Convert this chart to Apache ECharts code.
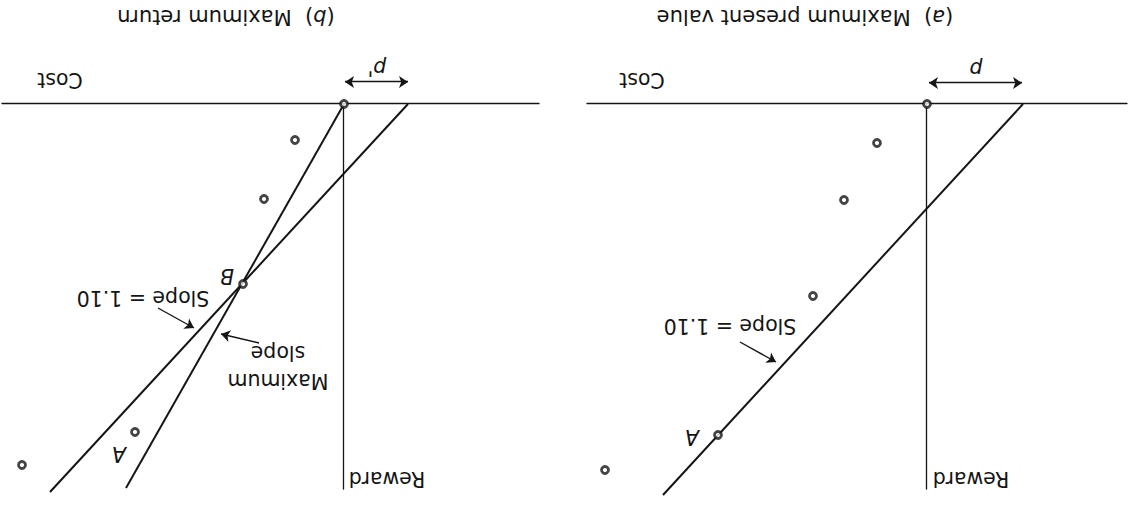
<!DOCTYPE html>
<html>
<head>
<meta charset="utf-8">
<script src="https://cdn.jsdelivr.net/npm/echarts@6/dist/echarts.min.js"></script>
<style>
html,body{margin:0;padding:0;background:#fff;}
#chart{width:1128px;height:505px;transform:rotate(180deg);transform-origin:50% 50%;}
</style>
</head>
<body>
<div id="chart"></div>
<script>
// ---- data (upright units: x = cost, y = reward; origin at the reward axis) ----
const panelTitles = ['Maximum present value', 'Maximum return'];
const panelLetters = ['a', 'b'];
const pointsA = [[5.0, 3.9], [8.3, 9.6], [11.4, 19.2], [20.9, 33.1], [32.2, 36.6]];
const slopeLineA = [[-9.6, 0], [26.4, 39.1]];
const pointsB = [[4.9, 3.6], [8.0, 9.5], [10.1, 18.0], [20.9, 32.8], [32.2, 36.1]];
const slopeLineB = [[-6.4, 0], [29.4, 38.8]];
const maxSlopeLineB = [[0, 0], [21.8, 38.4]];
const originPoint = [[0, 0]];
const slopeText = 'Slope = 1.10';

const ink = '#151515';
const font = 'DejaVu Sans';

function ringSeries(data, gi) {
  return {
    type: 'scatter', xAxisIndex: gi, yAxisIndex: gi, data: data,
    symbol: 'circle', symbolSize: 7, clip: false, silent: true, z: 5,
    itemStyle: {color: '#fff', borderColor: ink, borderWidth: 2.8}
  };
}
function lineSeries(data, gi) {
  return {
    type: 'line', xAxisIndex: gi, yAxisIndex: gi, data: data,
    showSymbol: false, clip: false, silent: true, z: 3,
    lineStyle: {color: ink, width: 2}
  };
}
function arrowSeries(from, to, gi, both) {
  return {
    type: 'lines', coordinateSystem: 'cartesian2d', xAxisIndex: gi, yAxisIndex: gi,
    clip: false, silent: true, z: 4,
    symbol: both ? ['arrow', 'arrow'] : ['none', 'arrow'], symbolSize: 9,
    lineStyle: {color: ink, width: 1.4, opacity: 1},
    data: [{coords: [from, to]}]
  };
}

const textA = [
  {t: 'Cost', v: [28.5, -2.4]},
  {t: 'Reward', v: [-4.4, 37.5]},
  {t: 'p', v: [-4.9, -3.5], it: true},
  {t: 'A', v: [23.5, 33.3], it: true},
  {t: slopeText, v: [19.7, 22.2]}
];
const textB = [
  {t: 'Cost', v: [28.4, -2.4]},
  {t: 'Reward', v: [-4.3, 37.45]},
  {t: "p'", v: [-3.3, -3.6], it: true},
  {t: 'A', v: [22.5, 35.0], it: true},
  {t: 'B', v: [11.7, 17.2], it: true},
  {t: slopeText, v: [20.1, 19.35]},
  {t: 'Maximum', v: [6.6, 27.65]},
  {t: 'slope', v: [6.6, 24.9]}
];

const axisStyle = {show: true, onZero: true, lineStyle: {color: ink, width: 1.3}};
function xAx(gi, min, max) {
  return {type: 'value', gridIndex: gi, min: min, max: max, axisLine: axisStyle,
          axisTick: {show: false}, axisLabel: {show: false}, splitLine: {show: false}};
}
function yAx(gi) {
  return {type: 'value', gridIndex: gi, min: 0, max: 38.5, axisLine: axisStyle,
          axisTick: {show: false}, axisLabel: {show: false}, splitLine: {show: false}};
}

const chart = echarts.init(document.getElementById('chart'), null, {renderer: 'svg'});
chart.setOption({
  animation: false,
  backgroundColor: '#fff',
  grid: [
    {left: 1, width: 540, top: 16, height: 385},
    {left: 589, width: 537, top: 16, height: 385}
  ],
  xAxis: [xAx(0, -20, 34), xAx(1, -19.5, 34.2)],
  yAxis: [yAx(0), yAx(1)],
  series: [
    lineSeries(slopeLineA, 0),
    ringSeries(pointsA, 0),
    ringSeries(originPoint, 0),
    arrowSeries([-0.2, -2.1], [-9.5, -2.1], 0, true),
    arrowSeries([18.7, 23.8], [15.1, 25.8], 0, false),

    lineSeries(slopeLineB, 1),
    lineSeries(maxSlopeLineB, 1),
    ringSeries(pointsB, 1),
    ringSeries(originPoint, 1),
    arrowSeries([-0.1, -2.2], [-6.4, -2.2], 1, true),
    arrowSeries([18.6, 20.4], [15.0, 22.4], 1, false),
    arrowSeries([8.5, 23.9], [12.3, 23.0], 1, false)
  ]
});

// text annotations placed through the grids' own scales
const graphics = [];
[0, 1].forEach(i => {
  graphics.push({
    type: 'text', x: i === 0 ? 323 : 902, y: 488, z: 10,
    style: {
      text: '({i|' + panelLetters[i] + '})  ' + panelTitles[i],
      rich: {i: {fontStyle: 'italic', fontFamily: font, fontSize: 21, fill: ink}},
      font: '21px "DejaVu Sans"', fill: ink, align: 'center', verticalAlign: 'middle'
    }
  });
});
[[textA, 0], [textB, 1]].forEach(([items, gi]) => {
  items.forEach(it => {
    const p = chart.convertToPixel({gridIndex: gi}, it.v);
    graphics.push({
      type: 'text', x: p[0], y: p[1], z: 10,
      style: {
        text: it.t, fill: ink, align: 'center', verticalAlign: 'middle',
        font: (it.it ? 'italic ' : '') + '20.5px "DejaVu Sans"'
      }
    });
  });
});
chart.setOption({graphic: graphics});
</script>
</body>
</html>
